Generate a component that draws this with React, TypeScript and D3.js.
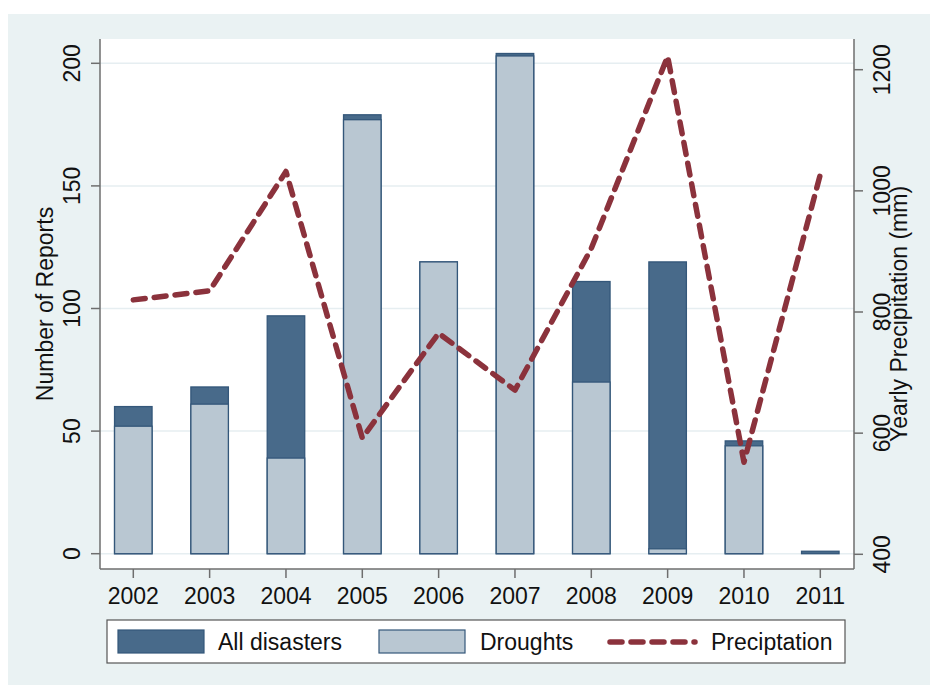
import React from "react";
import * as d3 from "d3";

const years = ["2002", "2003", "2004", "2005", "2006", "2007", "2008", "2009", "2010", "2011"];
const allDisasters = [60, 68, 97, 179, 119, 204, 111, 119, 46, 1];
const droughts = [52, 61, 39, 177, 119, 203, 70, 2, 44, 0];
const precipitation = [820, 835, 1032, 592, 765, 671, 905, 1222, 552, 1027];
const leftTicks = [0, 50, 100, 150, 200];
const rightTicks = [400, 600, 800, 1000, 1200];

const BG = "#eaf2f3";
const DARK = "#486a8a";
const LIGHT = "#b9c7d2";
const OUTLINE = "#34577a";
const LINE = "#8b323c";
const AXIS = "#6e6e6e";
const FONT = "Arial, 'Liberation Sans', sans-serif";
const FS = 23;

export default function App() {
  const plotL = 100, plotR = 854, plotT = 39, plotB = 569;
  const x = d3.scalePoint<string>().domain(years).range([133.3, 820.3]);
  const yL = d3.scaleLinear().domain([0, 200]).range([553.7, 63.3]);
  const yR = d3.scaleLinear().domain([400, 1200]).range([554.3, 69.7]);
  const bw = 37.5;

  const line = d3
    .line<number>()
    .x((_, i) => x(years[i]) as number)
    .y((d) => yR(d));

  return (
    <svg width={931} height={686} style={{ position: "absolute", left: 0, top: 0, fontFamily: FONT }}>
      <rect x={0} y={0} width={931} height={686} fill="#ffffff" />
      <rect x={8} y={14} width={922} height={671} fill={BG} />
      <rect x={plotL} y={plotT} width={plotR - plotL} height={plotB - plotT} fill="#ffffff" />
      {leftTicks.map((t) => (
        <line key={"g" + t} x1={plotL} x2={plotR} y1={yL(t)} y2={yL(t)} stroke="#e6eef1" strokeWidth={1.5} />
      ))}
      {years.map((yr, i) => (
        <rect
          key={"a" + yr}
          x={(x(yr) as number) - bw / 2}
          y={yL(allDisasters[i])}
          width={bw}
          height={yL(0) - yL(allDisasters[i])}
          fill={DARK}
          stroke={OUTLINE}
          strokeWidth={1.3}
        />
      ))}
      {years.map((yr, i) =>
        droughts[i] > 0 ? (
          <rect
            key={"d" + yr}
            x={(x(yr) as number) - bw / 2}
            y={yL(droughts[i])}
            width={bw}
            height={yL(0) - yL(droughts[i])}
            fill={LIGHT}
            stroke={OUTLINE}
            strokeWidth={1.3}
          />
        ) : null
      )}
      <path
        d={line(precipitation) as string}
        fill="none"
        stroke={LINE}
        strokeWidth={5.5}
        strokeDasharray="12 9"
        strokeLinecap="round"
        strokeLinejoin="round"
      />
      {/* axes */}
      <line x1={plotL} x2={plotL} y1={plotT} y2={plotB} stroke={AXIS} strokeWidth={1.5} />
      <line x1={plotR} x2={plotR} y1={plotT} y2={plotB} stroke={AXIS} strokeWidth={1.5} />
      <line x1={plotL} x2={plotR} y1={plotB} y2={plotB} stroke={AXIS} strokeWidth={1.5} />
      {leftTicks.map((t) => (
        <g key={"lt" + t}>
          <line x1={91} x2={plotL} y1={yL(t)} y2={yL(t)} stroke={AXIS} strokeWidth={1.5} />
          <text
            transform={`translate(80,${yL(t)}) rotate(-90)`}
            textAnchor="middle"
            fontSize={FS}
            fill="#111"
          >
            {t}
          </text>
        </g>
      ))}
      {rightTicks.map((t) => (
        <g key={"rt" + t}>
          <line x1={plotR} x2={863} y1={yR(t)} y2={yR(t)} stroke={AXIS} strokeWidth={1.5} />
          <text
            transform={`translate(890,${yR(t)}) rotate(-90)`}
            textAnchor="middle"
            fontSize={FS}
            fill="#111"
          >
            {t}
          </text>
        </g>
      ))}
      {years.map((yr) => (
        <g key={"xt" + yr}>
          <line x1={x(yr)} x2={x(yr)} y1={plotB} y2={578} stroke={AXIS} strokeWidth={1.5} />
          <text x={x(yr)} y={604} textAnchor="middle" fontSize={FS} fill="#111">
            {yr}
          </text>
        </g>
      ))}
      <text transform="translate(53,304) rotate(-90)" textAnchor="middle" fontSize={FS} fill="#111">
        Number of Reports
      </text>
      <text transform="translate(907,314) rotate(-90)" textAnchor="middle" fontSize={FS} fill="#111">
        Yearly Precipitation (mm)
      </text>
      {/* legend */}
      <rect x={107} y={620} width={738} height={43} fill="#ffffff" stroke="#555" strokeWidth={1.2} />
      <rect x={118} y={630} width={86} height={23} fill={DARK} stroke={OUTLINE} strokeWidth={1.2} />
      <text x={218} y={650} fontSize={FS} fill="#111">All disasters</text>
      <rect x={379} y={630} width={86} height={23} fill={LIGHT} stroke={OUTLINE} strokeWidth={1.2} />
      <text x={480} y={650} fontSize={FS} fill="#111">Droughts</text>
      <line x1={610} x2={695} y1={642} y2={642} stroke={LINE} strokeWidth={5.5} strokeDasharray="12 9" strokeLinecap="round" />
      <text x={711} y={650} fontSize={FS} fill="#111">Preciptation</text>
    </svg>
  );
}
